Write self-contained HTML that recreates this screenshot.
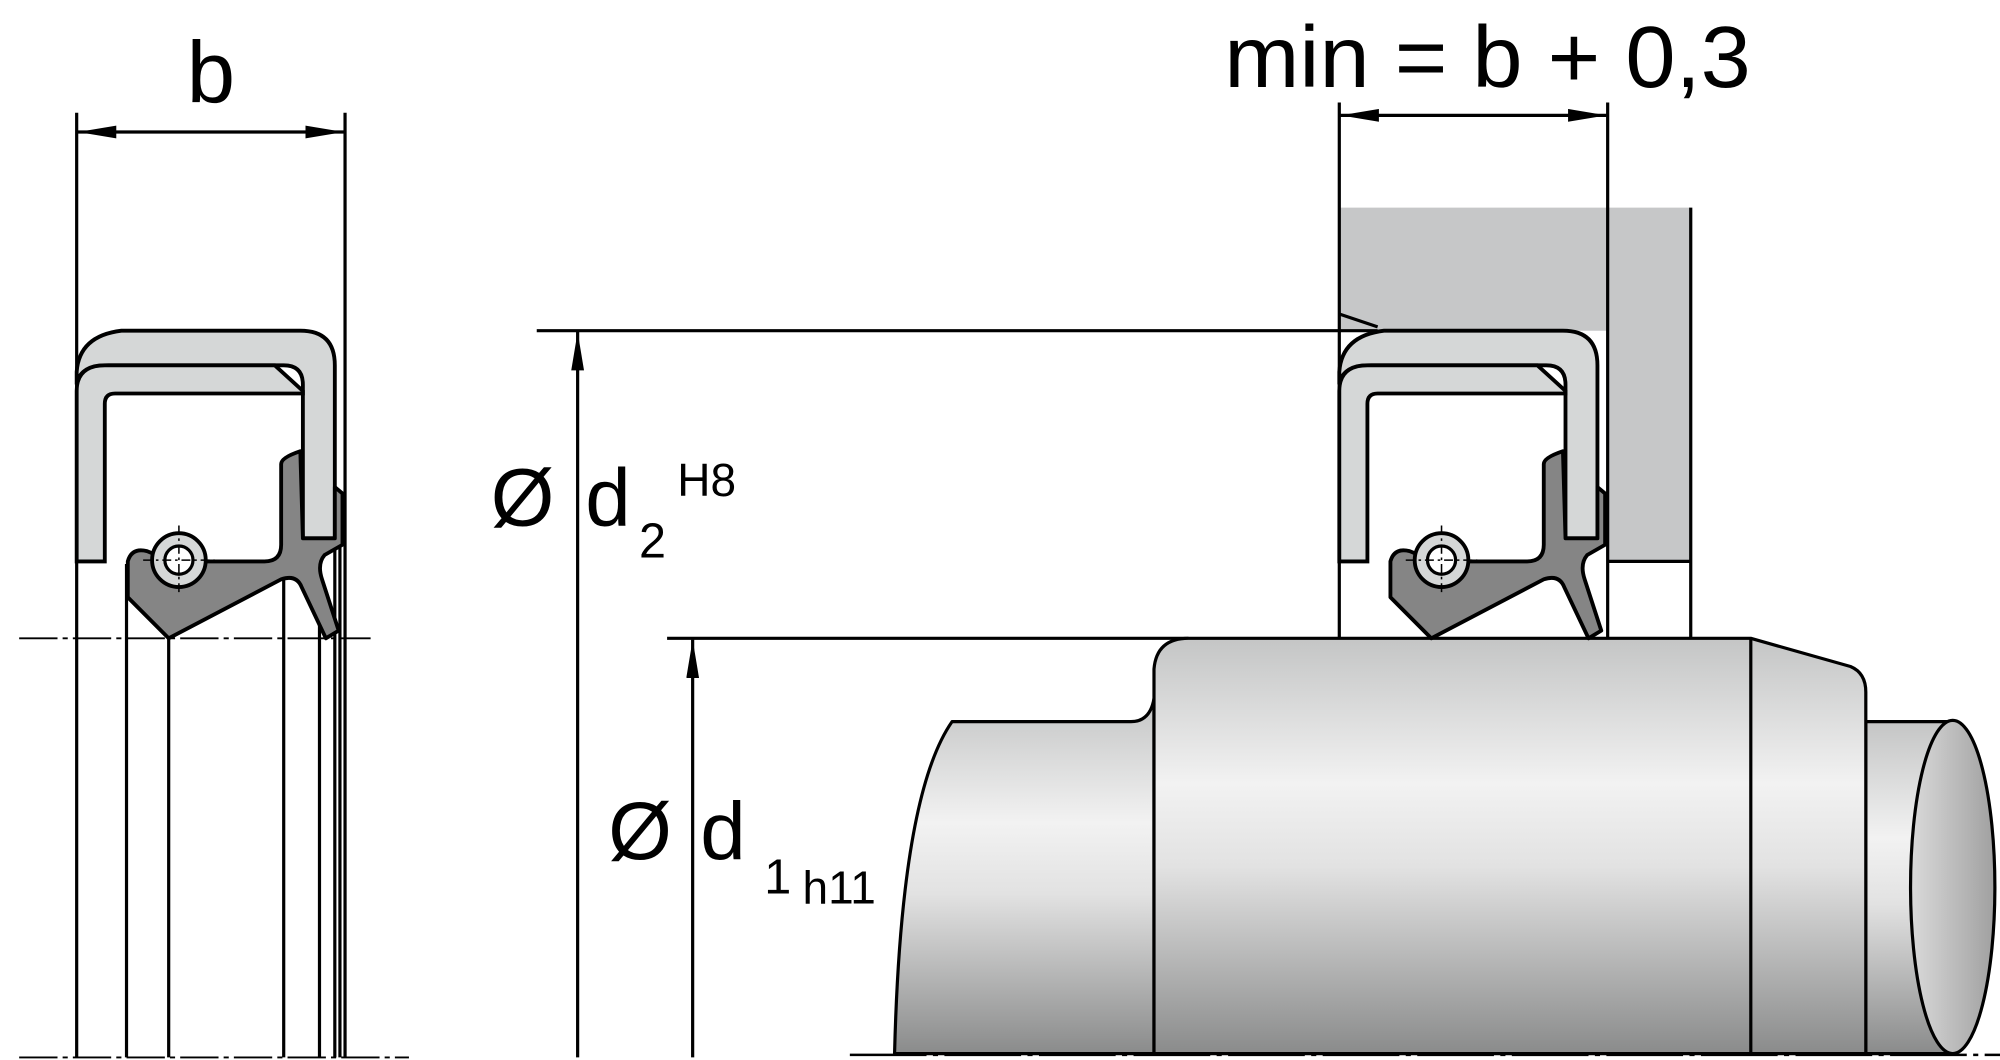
<!DOCTYPE html>
<html><head><meta charset="utf-8"><style>html,body{margin:0;padding:0;background:#fff}svg{display:block}</style></head>
<body>
<svg width="2000" height="1060" viewBox="0 0 1565 827" preserveAspectRatio="none" xmlns="http://www.w3.org/2000/svg" font-family="Liberation Sans, Arial, sans-serif">
<defs>
<linearGradient id="g" x1="0" y1="0" x2="0" y2="1">
<stop offset="0" stop-color="#c4c5c5"/><stop offset="0.35" stop-color="#f2f2f2"/><stop offset="0.55" stop-color="#e2e2e2"/><stop offset="1" stop-color="#8a8b8b"/>
</linearGradient>
<linearGradient id="g2" x1="0" y1="0" x2="1" y2="0">
<stop offset="0" stop-color="#dadada"/><stop offset="1" stop-color="#a0a0a0"/>
</linearGradient>
<marker id="ar" viewBox="0 0 30 10" refX="30" refY="5" markerWidth="30" markerHeight="10" markerUnits="userSpaceOnUse" orient="auto-start-reverse"><path d="M0,0 L30,5 L0,10 Z" fill="#000"/></marker>
<g id="seal">
<path d="M60,290 Q62,262 95,258 L235,258 Q262,258 262,285 L262,420 L237,420 L237,300 Q237,285 222,285 L85,285 Q62,285 60,300 Z" fill="#d5d7d7" stroke="#000" stroke-width="3"/>
<path d="M60,438 L60,305 Q60,285 82,285 L215,285 L237,305 L237,307 L90,307 Q82,307 82,315 L82,438 Z" fill="#d5d7d7" stroke="#000" stroke-width="3"/>
<path d="M220,362 Q220,357 235,352 L237,420 L262,420 L262,380 L268,385 L268,425 L254,433 Q248,440 252,452 L265,492 L255,498 L236,458 Q232,448 220,452 L132,498 L100,466 L100,438 Q103,427 115,430 L135,438 L207,438 Q220,438 220,425 Z" fill="#858585" stroke="#000" stroke-width="3" stroke-linejoin="round"/>
<circle cx="140" cy="437" r="21" fill="#d5d7d7" stroke="#000" stroke-width="3"/>
<circle cx="140" cy="437" r="11" fill="#fff" stroke="#000" stroke-width="2.5"/>
<path d="M140,410 V465 M112,437 H168" stroke="#000" stroke-width="1.2" stroke-dasharray="7,3,2,3"/>
</g>
</defs>

<g stroke="#000" stroke-width="2.5" fill="none">
<line x1="60" y1="88" x2="60" y2="825"/><line x1="270" y1="88" x2="270" y2="825"/>
<line x1="99" y1="440" x2="99" y2="825"/><line x1="132" y1="498" x2="132" y2="825"/>
<line x1="222" y1="440" x2="222" y2="825"/><line x1="250" y1="480" x2="250" y2="825"/>
<line x1="262" y1="420" x2="262" y2="825"/><line x1="266" y1="420" x2="266" y2="825"/>
<line x1="15" y1="498" x2="290" y2="498" stroke-width="1.5" stroke-dasharray="30,4,4,4"/>
<line x1="15" y1="825" x2="320" y2="825" stroke-width="1.5" stroke-dasharray="30,4,4,4"/>
<line x1="61" y1="103" x2="269" y2="103" marker-end="url(#ar)" marker-start="url(#ar)"/>
</g>
<text x="165" y="80" font-size="68" text-anchor="middle">b</text>
<use href="#seal"/>

<path d="M1048,162 H1323 V438 H1258 V258 H1048 Z" fill="#c6c7c8"/>
<g stroke="#000" stroke-width="2.5" fill="none">
<line x1="1048" y1="80" x2="1048" y2="498"/><line x1="1258" y1="80" x2="1258" y2="498"/>
<line x1="1323" y1="162" x2="1323" y2="498"/><line x1="1258" y1="438" x2="1323" y2="438"/>
<line x1="1049" y1="90" x2="1257" y2="90" marker-end="url(#ar)" marker-start="url(#ar)"/>
<line x1="420" y1="258" x2="1078" y2="258"/>
<line x1="1048" y1="245" x2="1078" y2="255"/>
<line x1="452" y1="825" x2="452" y2="259" marker-end="url(#ar)"/>
<line x1="522" y1="498" x2="930" y2="498"/>
<line x1="542" y1="825" x2="542" y2="499" marker-end="url(#ar)"/>
</g>
<text x="958" y="68" font-size="68" textLength="412" lengthAdjust="spacingAndGlyphs">min = b + 0,3</text>
<text x="384" y="410" font-size="64">Ø</text><text x="458" y="410" font-size="64">d</text><text x="500" y="435" font-size="38">2</text><text x="530" y="387" font-size="36">H8</text>
<text x="476" y="670" font-size="64">Ø</text><text x="548" y="670" font-size="64">d</text><text x="598" y="697" font-size="38">1</text><text x="628" y="705" font-size="36">h11</text>

<g stroke="#000" stroke-width="2.5" stroke-linejoin="round">
<path d="M1460,563 H1530 L1530,822 H1460 Z" fill="url(#g)"/>
<ellipse cx="1528" cy="692" rx="33" ry="130" fill="url(#g2)"/>
<path d="M745,563 H885 Q900,563 903,545 L903,822 H700 Q705,620 745,563 Z" fill="url(#g)"/>
<path d="M903,522 Q905,498 930,498 H1370 L1448,520 Q1460,525 1460,540 V822 H903 Z" fill="url(#g)"/>
<line x1="1370" y1="498" x2="1370" y2="822"/>
</g>
<use href="#seal" transform="translate(988,0)"/>
<line x1="665" y1="823" x2="1565" y2="823" stroke="#000" stroke-width="2" stroke-dasharray="60,5,4,5"/>
</svg>
</body></html>
